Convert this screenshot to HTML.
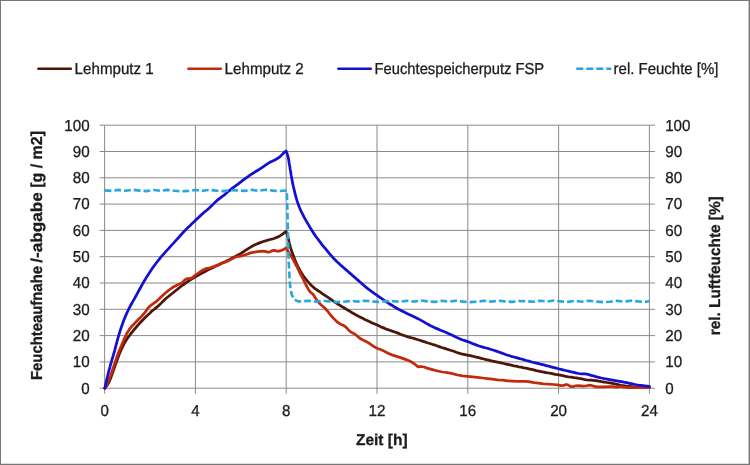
<!DOCTYPE html>
<html>
<head>
<meta charset="utf-8">
<title>Feuchteaufnahme / -abgabe</title>
<style>
html,body{margin:0;padding:0;background:#fff;}
body{width:750px;height:465px;overflow:hidden;position:relative;font-family:"Liberation Sans",sans-serif;}
#frame{position:absolute;left:0;top:0;width:750px;height:465px;box-sizing:border-box;border-style:solid;border-color:#777;border-width:1px 1.5px 1.5px 1px;}
svg{will-change:transform;position:absolute;left:0;top:0;display:block;}
svg text{text-rendering:geometricPrecision;font-family:"Liberation Sans",sans-serif;font-size:15.9px;fill:#1c1c1c;stroke:#1c1c1c;stroke-width:0.3px;}
</style>
</head>
<body>
<svg width="750" height="465" viewBox="0 0 750 465">
<rect x="0" y="0" width="750" height="465" fill="#ffffff"/>
<rect x="0" y="0" width="750" height="1" fill="#777"/>
<rect x="0" y="0" width="1" height="465" fill="#777"/>
<rect x="748.6" y="0" width="1.4" height="465" fill="#777"/>
<rect x="0" y="463.75" width="750" height="1.25" fill="#777"/>
<line x1="99.6" x2="654.9" y1="388.2" y2="388.2" stroke="#8a8a8a" stroke-width="1"/>
<line x1="99.6" x2="654.9" y1="361.9" y2="361.9" stroke="#8a8a8a" stroke-width="1"/>
<line x1="99.6" x2="654.9" y1="335.6" y2="335.6" stroke="#8a8a8a" stroke-width="1"/>
<line x1="99.6" x2="654.9" y1="309.3" y2="309.3" stroke="#8a8a8a" stroke-width="1"/>
<line x1="99.6" x2="654.9" y1="283.0" y2="283.0" stroke="#8a8a8a" stroke-width="1"/>
<line x1="99.6" x2="654.9" y1="256.7" y2="256.7" stroke="#8a8a8a" stroke-width="1"/>
<line x1="99.6" x2="654.9" y1="230.4" y2="230.4" stroke="#8a8a8a" stroke-width="1"/>
<line x1="99.6" x2="654.9" y1="204.1" y2="204.1" stroke="#8a8a8a" stroke-width="1"/>
<line x1="99.6" x2="654.9" y1="177.8" y2="177.8" stroke="#8a8a8a" stroke-width="1"/>
<line x1="99.6" x2="654.9" y1="151.5" y2="151.5" stroke="#8a8a8a" stroke-width="1"/>
<line x1="99.6" x2="654.9" y1="125.2" y2="125.2" stroke="#8a8a8a" stroke-width="1"/>
<line x1="104.6" x2="104.6" y1="125.2" y2="393.7" stroke="#8a8a8a" stroke-width="1"/>
<line x1="195.4" x2="195.4" y1="125.2" y2="393.7" stroke="#8a8a8a" stroke-width="1"/>
<line x1="286.2" x2="286.2" y1="125.2" y2="393.7" stroke="#8a8a8a" stroke-width="1"/>
<line x1="377.0" x2="377.0" y1="125.2" y2="393.7" stroke="#8a8a8a" stroke-width="1"/>
<line x1="467.8" x2="467.8" y1="125.2" y2="393.7" stroke="#8a8a8a" stroke-width="1"/>
<line x1="558.6" x2="558.6" y1="125.2" y2="393.7" stroke="#8a8a8a" stroke-width="1"/>
<line x1="649.4" x2="649.4" y1="125.2" y2="393.7" stroke="#8a8a8a" stroke-width="1"/>
<path d="M104.8,388.2 L105.0,388.0 L105.3,387.6 L105.8,387.0 L106.5,386.2 L107.3,385.2 L108.0,383.9 L108.8,382.4 L109.6,380.6 L110.4,378.8 L111.1,376.9 L111.8,375.0 L112.5,373.0 L113.2,371.0 L113.9,369.0 L114.7,367.0 L115.3,365.0 L116.1,363.0 L116.8,360.9 L117.6,358.8 L118.3,356.8 L119.2,354.6 L120.1,352.3 L121.1,350.0 L122.2,347.7 L123.2,345.5 L124.2,343.6 L125.1,341.9 L126.0,340.5 L126.9,339.1 L127.8,337.7 L128.8,336.4 L129.8,335.1 L130.8,333.7 L131.9,332.3 L133.1,330.9 L134.2,329.5 L135.5,328.0 L136.8,326.5 L138.2,324.9 L139.6,323.3 L141.1,321.7 L142.5,320.2 L144.0,318.7 L145.4,317.3 L146.9,315.9 L148.3,314.5 L149.8,313.2 L151.2,311.8 L152.7,310.5 L154.3,309.2 L155.9,307.9 L157.5,306.6 L159.0,305.3 L160.3,304.1 L161.5,302.9 L162.5,301.7 L163.9,300.4 L165.6,298.8 L167.8,297.0 L170.2,295.0 L172.8,293.0 L175.2,291.0 L177.8,289.0 L180.2,287.0 L182.8,285.0 L185.6,283.1 L188.4,281.2 L191.2,279.4 L194.1,277.6 L196.8,276.0 L199.5,274.5 L202.1,273.1 L204.7,271.7 L207.2,270.4 L209.8,269.1 L212.2,267.9 L214.8,266.6 L217.2,265.5 L219.8,264.3 L222.2,263.1 L224.8,261.9 L227.2,260.7 L229.8,259.4 L232.2,258.0 L234.4,256.9 L236.1,256.0 L237.5,255.2 L238.5,254.8 L239.6,254.1 L240.9,253.4 L242.2,252.5 L243.8,251.5 L245.4,250.4 L247.1,249.3 L249.0,248.1 L251.0,246.9 L253.0,245.8 L255.0,244.8 L257.0,243.9 L259.0,243.1 L260.9,242.4 L262.6,241.8 L264.2,241.2 L265.8,240.8 L267.2,240.3 L268.8,239.9 L270.2,239.5 L271.8,239.1 L273.2,238.7 L274.8,238.2 L276.2,237.6 L277.8,237.0 L279.1,236.3 L280.4,235.6 L281.5,234.9 L282.5,234.1 L283.4,233.5 L284.2,232.9 L284.8,232.4 L285.4,232.0 L285.8,231.7 L286.1,231.5 L286.2,231.4 L286.3,231.8 L286.5,232.5 L286.9,233.5 L287.3,234.9 L287.8,236.5 L288.3,238.3 L288.8,240.4 L289.2,242.6 L289.8,244.9 L290.4,247.1 L291.1,249.4 L291.9,251.6 L292.7,253.9 L293.6,256.3 L294.5,258.8 L295.5,261.2 L296.6,263.7 L297.7,266.1 L298.9,268.4 L300.1,270.6 L301.4,272.8 L302.8,274.9 L304.2,277.0 L305.8,279.0 L307.2,280.9 L308.8,282.6 L310.2,284.2 L311.8,285.8 L313.1,287.0 L314.2,288.0 L315.1,288.8 L315.9,289.2 L317.0,290.0 L318.5,291.0 L320.4,292.2 L322.6,293.8 L324.9,295.3 L327.3,296.9 L329.8,298.6 L332.2,300.4 L334.8,302.1 L337.2,303.7 L339.8,305.2 L342.2,306.8 L344.8,308.2 L347.2,309.8 L349.8,311.2 L352.2,312.8 L354.8,314.2 L357.2,315.6 L359.8,316.9 L362.2,318.1 L364.8,319.4 L367.2,320.5 L369.8,321.7 L372.2,322.9 L374.8,324.0 L377.2,325.1 L379.8,326.2 L382.2,327.4 L384.8,328.4 L387.2,329.4 L389.8,330.3 L392.2,331.1 L394.8,332.0 L397.2,332.9 L399.8,333.9 L402.2,334.9 L404.8,335.8 L407.2,336.6 L409.8,337.4 L412.2,338.0 L414.8,338.7 L417.2,339.5 L419.8,340.3 L422.2,341.1 L424.8,341.9 L427.2,342.7 L429.8,343.5 L432.2,344.3 L434.4,344.9 L436.1,345.5 L437.5,346.0 L438.5,346.4 L439.9,346.9 L441.6,347.5 L443.8,348.1 L446.2,348.9 L448.8,349.7 L451.2,350.5 L453.8,351.3 L456.2,352.2 L458.8,353.1 L461.2,353.8 L463.8,354.4 L466.2,354.9 L468.8,355.4 L471.2,355.9 L473.8,356.5 L476.2,357.1 L478.8,357.7 L481.2,358.3 L483.8,359.0 L486.2,359.6 L488.8,360.2 L491.2,360.8 L493.8,361.4 L496.2,361.9 L498.8,362.4 L501.2,362.9 L503.8,363.5 L506.2,364.1 L508.8,364.7 L511.2,365.2 L513.8,365.8 L516.2,366.2 L518.8,366.8 L521.2,367.2 L523.8,367.8 L526.2,368.2 L528.8,368.8 L531.2,369.3 L533.8,369.9 L536.2,370.6 L538.8,371.1 L541.2,371.7 L543.8,372.1 L546.2,372.6 L548.7,373.0 L551.0,373.4 L553.2,373.8 L555.3,374.3 L557.6,374.7 L560.1,375.2 L562.8,375.7 L565.7,376.3 L568.5,376.8 L571.2,377.2 L573.9,377.6 L576.5,377.9 L578.8,378.3 L580.8,378.6 L582.5,379.0 L583.9,379.4 L585.3,379.7 L586.7,379.9 L588.1,380.0 L589.5,380.0 L591.2,380.1 L593.4,380.4 L595.8,380.7 L598.6,381.2 L601.4,381.6 L604.2,382.1 L607.0,382.5 L609.8,382.9 L612.4,383.3 L614.8,383.8 L617.0,384.3 L619.0,384.8 L621.2,385.3 L623.6,385.7 L626.2,386.1 L629.0,386.4 L631.7,386.7 L634.3,387.0 L636.8,387.2 L639.2,387.4 L641.4,387.6 L643.4,387.6 L645.3,387.7 L646.9,387.7 L648.2,387.7 L649.0,387.7 L649.4,387.7" fill="none" stroke="#4e1608" stroke-width="2.75" stroke-linejoin="round" stroke-linecap="round"/>
<path d="M104.8,388.2 L105.3,387.1 L106.5,385.1 L107.7,382.5 L109.1,379.5 L110.5,376.0 L111.8,372.0 L113.2,368.0 L114.5,364.0 L115.9,359.9 L117.3,355.7 L119.0,351.2 L121.0,346.5 L122.8,342.4 L124.2,338.9 L125.6,336.0 L126.7,333.6 L128.2,331.2 L129.9,328.6 L131.8,326.3 L133.8,324.2 L136.2,321.8 L139.1,318.8 L141.8,316.1 L144.1,313.5 L146.2,310.9 L147.8,308.3 L149.9,306.1 L152.2,304.4 L154.3,302.9 L156.1,301.6 L158.2,299.8 L160.8,297.2 L164.0,294.2 L168.0,290.8 L171.8,288.0 L175.2,286.0 L178.2,284.5 L180.8,283.5 L183.0,281.9 L185.0,279.7 L187.2,278.6 L189.8,278.6 L192.2,277.7 L194.4,275.9 L197.7,273.5 L201.9,270.5 L206.0,268.6 L210.0,267.8 L214.0,266.5 L218.0,264.9 L222.0,263.2 L226.0,261.8 L230.0,259.9 L234.0,257.7 L237.0,256.5 L239.0,256.3 L241.5,255.8 L244.5,255.0 L247.2,254.1 L249.8,253.1 L252.8,252.3 L256.2,251.8 L259.5,251.4 L262.5,251.2 L265.2,251.4 L267.8,252.2 L270.0,251.9 L272.0,250.7 L274.2,250.3 L276.8,251.1 L279.2,251.1 L281.8,250.3 L283.6,249.5 L285.0,248.5 L285.6,248.0 L286.0,248.3 L286.6,249.1 L287.5,250.3 L288.5,252.1 L290.0,254.5 L292.0,257.5 L294.2,261.5 L296.8,266.5 L299.2,271.5 L301.8,276.5 L304.0,281.0 L306.0,285.0 L307.8,288.2 L309.2,290.8 L310.8,292.5 L312.2,293.5 L313.8,295.2 L315.2,297.8 L317.0,300.2 L319.0,302.8 L321.5,305.2 L324.5,307.8 L327.5,311.0 L330.5,315.0 L333.8,318.6 L337.2,322.0 L340.5,324.2 L343.5,325.4 L346.2,327.4 L348.8,330.2 L351.2,332.2 L353.8,333.4 L356.2,335.1 L358.8,337.5 L362.0,339.6 L366.0,341.4 L370.0,343.8 L374.0,346.6 L377.5,348.5 L380.5,349.5 L384.0,351.1 L388.0,353.3 L392.5,355.1 L397.5,356.6 L402.0,358.1 L406.0,359.6 L409.5,361.1 L412.5,362.6 L415.0,364.3 L417.0,366.1 L419.0,366.9 L421.0,366.5 L424.0,367.0 L428.0,368.4 L432.5,369.6 L437.5,371.0 L442.5,372.0 L447.5,372.6 L452.5,373.6 L457.5,375.0 L462.5,375.9 L467.5,376.4 L472.5,376.9 L477.5,377.4 L482.5,378.0 L487.5,378.6 L492.5,379.2 L497.5,379.8 L502.5,380.2 L507.5,380.8 L512.5,381.1 L517.5,381.3 L522.0,381.4 L526.0,381.4 L530.0,381.8 L534.0,382.6 L538.5,383.2 L543.5,383.8 L548.5,384.1 L553.5,384.5 L557.7,384.9 L561.1,385.6 L563.8,385.4 L565.8,384.5 L568.0,384.8 L570.4,386.4 L573.0,386.7 L575.8,385.8 L579.0,385.6 L582.6,386.1 L585.8,386.0 L588.6,385.2 L591.2,385.3 L593.6,386.2 L596.8,386.8 L600.8,386.8 L604.8,386.8 L608.8,386.5 L612.4,386.6 L615.6,387.0 L618.0,387.0 L619.6,386.6 L621.6,386.7 L624.0,387.2 L628.0,387.6 L633.6,387.6 L639.6,387.7 L646.1,387.7 L649.4,387.7" fill="none" stroke="#c22a0e" stroke-width="2.75" stroke-linejoin="round" stroke-linecap="round"/>
<path d="M104.8,388.2 L105.0,387.3 L105.4,385.5 L106.0,382.9 L106.8,379.3 L107.6,376.0 L108.4,372.8 L109.1,369.9 L109.9,367.1 L110.6,364.4 L111.4,361.8 L112.1,359.2 L112.9,356.8 L113.7,353.8 L114.7,350.3 L115.7,346.4 L116.9,342.0 L118.0,337.8 L119.2,333.9 L120.3,330.2 L121.5,326.7 L122.7,323.3 L123.9,320.1 L125.2,316.9 L126.5,313.9 L127.8,311.0 L129.1,308.3 L130.4,305.8 L131.7,303.5 L132.9,301.4 L133.9,299.6 L134.8,298.1 L135.4,296.9 L136.4,295.2 L137.5,293.1 L138.9,290.5 L140.6,287.5 L142.3,284.4 L144.1,281.3 L146.0,278.1 L148.0,274.9 L150.1,271.7 L152.2,268.6 L154.4,265.5 L156.6,262.5 L158.9,259.6 L161.3,256.7 L163.8,253.9 L166.2,251.1 L168.8,248.4 L171.2,245.6 L173.8,242.9 L176.2,240.1 L178.4,237.8 L180.1,235.8 L181.5,234.3 L182.5,233.1 L183.5,232.0 L184.5,231.0 L185.5,229.9 L186.5,229.0 L187.7,227.8 L189.2,226.4 L190.9,224.8 L192.7,222.9 L194.6,221.2 L196.3,219.5 L198.0,217.9 L199.6,216.4 L201.3,214.9 L203.1,213.3 L205.0,211.6 L207.0,210.0 L209.0,208.2 L211.0,206.3 L213.0,204.4 L215.0,202.4 L216.9,200.6 L218.7,199.1 L220.4,197.8 L222.0,196.6 L223.4,195.6 L224.7,194.6 L225.8,193.7 L226.6,192.8 L227.9,191.7 L229.7,190.3 L231.8,188.7 L234.2,186.8 L236.9,184.8 L239.6,182.8 L242.5,180.6 L245.5,178.4 L248.4,176.3 L251.1,174.4 L253.8,172.8 L256.2,171.2 L258.8,169.7 L261.2,168.1 L263.8,166.4 L266.2,164.6 L268.5,163.2 L270.5,162.0 L272.2,161.1 L273.8,160.5 L275.2,159.8 L276.6,159.1 L277.9,158.2 L279.1,157.4 L280.2,156.5 L281.2,155.5 L282.1,154.6 L282.9,153.8 L283.6,153.0 L284.2,152.4 L284.8,151.9 L285.4,151.5 L285.8,151.3 L286.1,151.1 L286.2,151.0 L286.3,151.3 L286.5,151.9 L286.9,152.9 L287.3,154.1 L287.8,155.8 L288.3,157.9 L288.8,160.5 L289.2,163.5 L289.8,166.5 L290.2,169.5 L290.8,172.5 L291.2,175.5 L291.8,178.6 L292.4,181.9 L293.1,185.2 L293.9,188.8 L294.7,192.2 L295.6,195.6 L296.5,198.9 L297.5,202.1 L298.6,205.2 L299.7,208.1 L300.9,210.8 L302.1,213.2 L303.3,215.6 L304.4,217.7 L305.5,219.6 L306.5,221.4 L307.6,223.3 L308.9,225.4 L310.2,227.8 L311.8,230.2 L313.2,232.6 L314.8,234.9 L316.2,237.0 L317.8,239.0 L319.4,241.1 L321.1,243.4 L323.0,245.8 L325.0,248.2 L327.0,250.7 L329.0,253.1 L331.0,255.4 L333.0,257.6 L335.0,259.8 L337.0,261.8 L339.0,263.6 L341.0,265.4 L343.0,267.1 L345.0,268.9 L347.0,270.6 L349.0,272.4 L351.0,274.1 L353.0,275.9 L355.0,277.6 L357.0,279.4 L359.0,281.1 L361.0,282.9 L363.0,284.6 L365.0,286.4 L367.1,288.1 L369.4,289.9 L371.8,291.6 L374.2,293.4 L376.8,295.1 L379.2,296.9 L381.8,298.6 L384.2,300.4 L386.8,302.1 L389.2,303.7 L391.8,305.2 L394.2,306.8 L396.8,308.2 L399.2,309.6 L401.8,310.9 L404.2,312.1 L406.9,313.4 L409.6,314.7 L412.5,316.1 L415.5,317.5 L418.4,318.9 L421.1,320.4 L423.8,321.9 L426.2,323.4 L428.8,324.8 L431.2,326.1 L433.8,327.2 L436.2,328.4 L438.8,329.4 L441.2,330.5 L443.8,331.6 L446.2,332.6 L448.8,333.7 L451.2,334.8 L453.8,336.0 L456.2,337.2 L458.6,338.3 L460.8,339.2 L462.8,340.0 L464.8,340.6 L467.0,341.4 L469.5,342.3 L472.2,343.4 L475.3,344.6 L478.3,345.7 L481.1,346.6 L483.8,347.4 L486.2,348.0 L488.8,348.7 L491.2,349.5 L493.8,350.3 L496.2,351.1 L498.8,352.0 L501.2,352.9 L503.8,353.8 L506.2,354.7 L508.8,355.5 L511.2,356.3 L513.8,357.0 L516.2,357.6 L518.8,358.3 L521.2,359.0 L523.8,359.7 L526.2,360.5 L528.8,361.2 L531.2,361.9 L533.8,362.5 L536.2,363.1 L538.8,363.7 L541.2,364.3 L543.8,364.9 L546.2,365.6 L548.7,366.2 L551.0,366.8 L553.2,367.4 L555.3,367.9 L557.6,368.5 L560.1,369.2 L562.8,369.8 L565.7,370.5 L568.5,371.1 L571.2,371.8 L573.9,372.4 L576.5,373.1 L578.8,373.5 L580.8,373.8 L582.5,373.9 L583.9,373.9 L585.3,373.9 L586.7,374.1 L588.1,374.4 L589.5,374.9 L591.2,375.4 L593.4,375.9 L595.8,376.6 L598.6,377.3 L601.4,378.0 L604.2,378.6 L607.0,379.1 L609.8,379.6 L612.6,380.1 L615.4,380.6 L618.2,381.1 L621.0,381.6 L623.8,382.2 L626.6,382.7 L629.4,383.3 L632.2,383.9 L635.1,384.5 L638.1,385.0 L641.3,385.4 L644.5,385.8 L647.0,386.1 L648.6,386.3 L649.4,386.4" fill="none" stroke="#1410d2" stroke-width="2.75" stroke-linejoin="round" stroke-linecap="round"/>
<path d="M104.6,190.4 L111.6,190.9 L118.6,189.9 L125.6,190.8 L132.6,189.7 L139.6,190.6 L146.6,191.1 L153.6,190.0 L160.6,190.9 L167.6,189.9 L174.6,190.8 L181.6,191.3 L188.6,190.9 L195.6,190.0 L202.6,190.8 L209.6,189.9 L216.6,190.6 L223.6,191.1 L230.6,190.2 L237.6,190.4 L244.6,190.9 L251.6,189.9 L258.6,190.8 L265.6,189.7 L272.6,190.6 L279.6,191.1 L286.8,190.4 L287.4,210.0 L288.6,260.0 L290.0,285.0 L291.6,294.5 L294.5,299.8 L298.5,301.5 L309.0,300.8 L316.0,301.7 L323.0,300.7 L330.0,301.6 L337.0,302.1 L344.0,301.7 L351.0,300.8 L358.0,301.6 L365.0,300.7 L372.0,301.4 L379.0,301.9 L386.0,301.0 L393.0,301.2 L400.0,301.7 L407.0,300.7 L414.0,301.6 L421.0,300.5 L428.0,301.4 L435.0,301.9 L442.0,300.8 L449.0,301.7 L456.0,300.7 L463.0,301.6 L470.0,302.1 L477.0,301.7 L484.0,300.8 L491.0,301.6 L498.0,300.7 L505.0,301.4 L512.0,301.9 L519.0,301.0 L526.0,301.2 L533.0,301.7 L540.0,300.7 L547.0,301.6 L554.0,300.5 L561.0,301.4 L568.0,301.9 L575.0,300.8 L582.0,301.7 L589.0,300.7 L596.0,301.6 L603.0,302.1 L610.0,301.7 L617.0,300.8 L624.0,301.6 L631.0,300.7 L638.0,301.4 L645.0,301.9 L649.4,301.0" fill="none" stroke="#27a7e0" stroke-width="2.6" stroke-dasharray="6.8 3" stroke-linejoin="round"/>
<text x="89.6" y="393.5" text-anchor="end" textLength="8.4" lengthAdjust="spacingAndGlyphs">0</text>
<text x="665.2" y="393.5" textLength="8.4" lengthAdjust="spacingAndGlyphs">0</text>
<text x="89.6" y="367.2" text-anchor="end" textLength="16.9" lengthAdjust="spacingAndGlyphs">10</text>
<text x="665.2" y="367.2" textLength="16.9" lengthAdjust="spacingAndGlyphs">10</text>
<text x="89.6" y="340.9" text-anchor="end" textLength="16.9" lengthAdjust="spacingAndGlyphs">20</text>
<text x="665.2" y="340.9" textLength="16.9" lengthAdjust="spacingAndGlyphs">20</text>
<text x="89.6" y="314.6" text-anchor="end" textLength="16.9" lengthAdjust="spacingAndGlyphs">30</text>
<text x="665.2" y="314.6" textLength="16.9" lengthAdjust="spacingAndGlyphs">30</text>
<text x="89.6" y="288.3" text-anchor="end" textLength="16.9" lengthAdjust="spacingAndGlyphs">40</text>
<text x="665.2" y="288.3" textLength="16.9" lengthAdjust="spacingAndGlyphs">40</text>
<text x="89.6" y="262.0" text-anchor="end" textLength="16.9" lengthAdjust="spacingAndGlyphs">50</text>
<text x="665.2" y="262.0" textLength="16.9" lengthAdjust="spacingAndGlyphs">50</text>
<text x="89.6" y="235.7" text-anchor="end" textLength="16.9" lengthAdjust="spacingAndGlyphs">60</text>
<text x="665.2" y="235.7" textLength="16.9" lengthAdjust="spacingAndGlyphs">60</text>
<text x="89.6" y="209.4" text-anchor="end" textLength="16.9" lengthAdjust="spacingAndGlyphs">70</text>
<text x="665.2" y="209.4" textLength="16.9" lengthAdjust="spacingAndGlyphs">70</text>
<text x="89.6" y="183.1" text-anchor="end" textLength="16.9" lengthAdjust="spacingAndGlyphs">80</text>
<text x="665.2" y="183.1" textLength="16.9" lengthAdjust="spacingAndGlyphs">80</text>
<text x="89.6" y="156.8" text-anchor="end" textLength="16.9" lengthAdjust="spacingAndGlyphs">90</text>
<text x="665.2" y="156.8" textLength="16.9" lengthAdjust="spacingAndGlyphs">90</text>
<text x="89.6" y="130.5" text-anchor="end" textLength="25.3" lengthAdjust="spacingAndGlyphs">100</text>
<text x="665.2" y="130.5" textLength="25.3" lengthAdjust="spacingAndGlyphs">100</text>
<text x="104.6" y="416" text-anchor="middle" textLength="8.4" lengthAdjust="spacingAndGlyphs">0</text>
<text x="195.4" y="416" text-anchor="middle" textLength="8.4" lengthAdjust="spacingAndGlyphs">4</text>
<text x="286.2" y="416" text-anchor="middle" textLength="8.4" lengthAdjust="spacingAndGlyphs">8</text>
<text x="377.0" y="416" text-anchor="middle" textLength="16.9" lengthAdjust="spacingAndGlyphs">12</text>
<text x="467.8" y="416" text-anchor="middle" textLength="16.9" lengthAdjust="spacingAndGlyphs">16</text>
<text x="558.6" y="416" text-anchor="middle" textLength="16.9" lengthAdjust="spacingAndGlyphs">20</text>
<text x="649.4" y="416" text-anchor="middle" textLength="16.9" lengthAdjust="spacingAndGlyphs">24</text>
<line x1="38.4" x2="70.8" y1="68.7" y2="68.7" stroke="#4e1608" stroke-width="2.5" stroke-linecap="round"/>
<text x="74.6" y="74" textLength="79.2" lengthAdjust="spacingAndGlyphs">Lehmputz 1</text>
<line x1="188.4" x2="220.8" y1="68.7" y2="68.7" stroke="#c22a0e" stroke-width="2.5" stroke-linecap="round"/>
<text x="224.6" y="74" textLength="79.2" lengthAdjust="spacingAndGlyphs">Lehmputz 2</text>
<line x1="338.4" x2="370.8" y1="68.7" y2="68.7" stroke="#1410d2" stroke-width="2.5" stroke-linecap="round"/>
<text x="374.6" y="74" textLength="169.6" lengthAdjust="spacingAndGlyphs">Feuchtespeicherputz FSP</text>
<line x1="576.3" x2="611.3" y1="68.7" y2="68.7" stroke="#29a0e0" stroke-width="2.4" stroke-dasharray="7 3"/>
<text x="613.6" y="74" textLength="104.8" lengthAdjust="spacingAndGlyphs">rel. Feuchte [%]</text>
<text x="381.8" y="444.7" text-anchor="middle" font-weight="bold" style="font-size:15.6px" textLength="51.6" lengthAdjust="spacingAndGlyphs">Zeit [h]</text>
<g font-weight="bold" style="font-size:15.6px"><text transform="translate(41.6,380) rotate(-90)" textLength="114" lengthAdjust="spacingAndGlyphs">Feuchteaufnahe</text><text transform="translate(41.6,262.8) rotate(-90)" textLength="70.6" lengthAdjust="spacingAndGlyphs">/-abgabe</text><text transform="translate(41.6,187.8) rotate(-90)" textLength="56.8" lengthAdjust="spacingAndGlyphs">[g / m2]</text></g>
<text transform="translate(720.2,265.8) rotate(-90)" text-anchor="middle" font-weight="bold" style="font-size:15.6px" textLength="139" lengthAdjust="spacingAndGlyphs">rel. Luftfeuchte [%]</text>
</svg>
</body>
</html>
